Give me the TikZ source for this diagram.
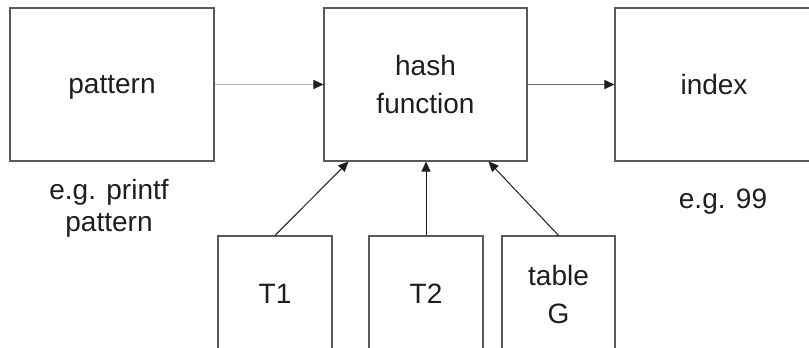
\documentclass[tikz,border=0pt]{standalone}
\usepackage{fontspec}
\setmainfont{Liberation Sans}
\usetikzlibrary{arrows.meta}
\definecolor{boxline}{HTML}{5A5A5A}
\definecolor{ink}{HTML}{1E1E1E}
\definecolor{faint}{HTML}{B4B4B4}
\definecolor{mid}{HTML}{6E6E6E}
\tikzset{
  blk/.style={draw=boxline, line width=1.1bp, inner sep=0pt, align=center,
    text=ink, font=\fontsize{28bp}{38bp}\selectfont},
  captext/.style={inner sep=0pt, align=center, text=ink,
    font=\fontsize{28bp}{32bp}\selectfont},
  flow/.style={line width=1bp, draw=#1,
    -{Triangle[length=10bp,width=9bp,fill=ink,color=ink]}},
  flow/.default=ink
}
\begin{document}
\begin{tikzpicture}[x=1bp, y=-1bp]
  \useasboundingbox (0,0) rectangle (809,347);
  \clip (0,0) rectangle (809,347);
  \fill[white] (0,0) rectangle (809,347);

  % top row
  \node[blk, text depth=0pt, minimum width=204bp, minimum height=153bp] (pat) at (112,84.5) {pattern};
  \node[blk, minimum width=203bp, minimum height=153bp] (hash) at (425.5,84.5) {hash\\function};
  \node[blk, minimum width=198bp, minimum height=153bp] (idx) at (714,84.5) {index};

  % tables feeding the hash function
  \node[blk, minimum width=114bp, minimum height=116bp] (t1) at (275,294) {T1};
  \node[blk, minimum width=114bp, minimum height=116bp] (t2) at (426,294) {T2};
  \node[blk, minimum width=113bp, minimum height=116bp] (tg) at (558.5,294) {table\\G};

  % captions
  \node[captext] (patcap) at (109,208) {e.g. printf\\pattern};
  \node[captext, anchor=base] (idxcap) at (723,208) {e.g. 99};

  % connectors
  \draw[flow=faint] (pat.east) -- (hash.west);
  \draw[flow=mid] (hash.east) -- (idx.west);
  \coordinate (h1) at ([xshift=25bp]hash.south west);
  \coordinate (hg) at ([xshift=-39bp]hash.south east);
  \draw[flow] (t1.north) -- (h1);
  \draw[flow] (t2.north) -- (t2.north |- hash.south);
  \draw[flow] (tg.north) -- (hg);
\end{tikzpicture}
\end{document}
